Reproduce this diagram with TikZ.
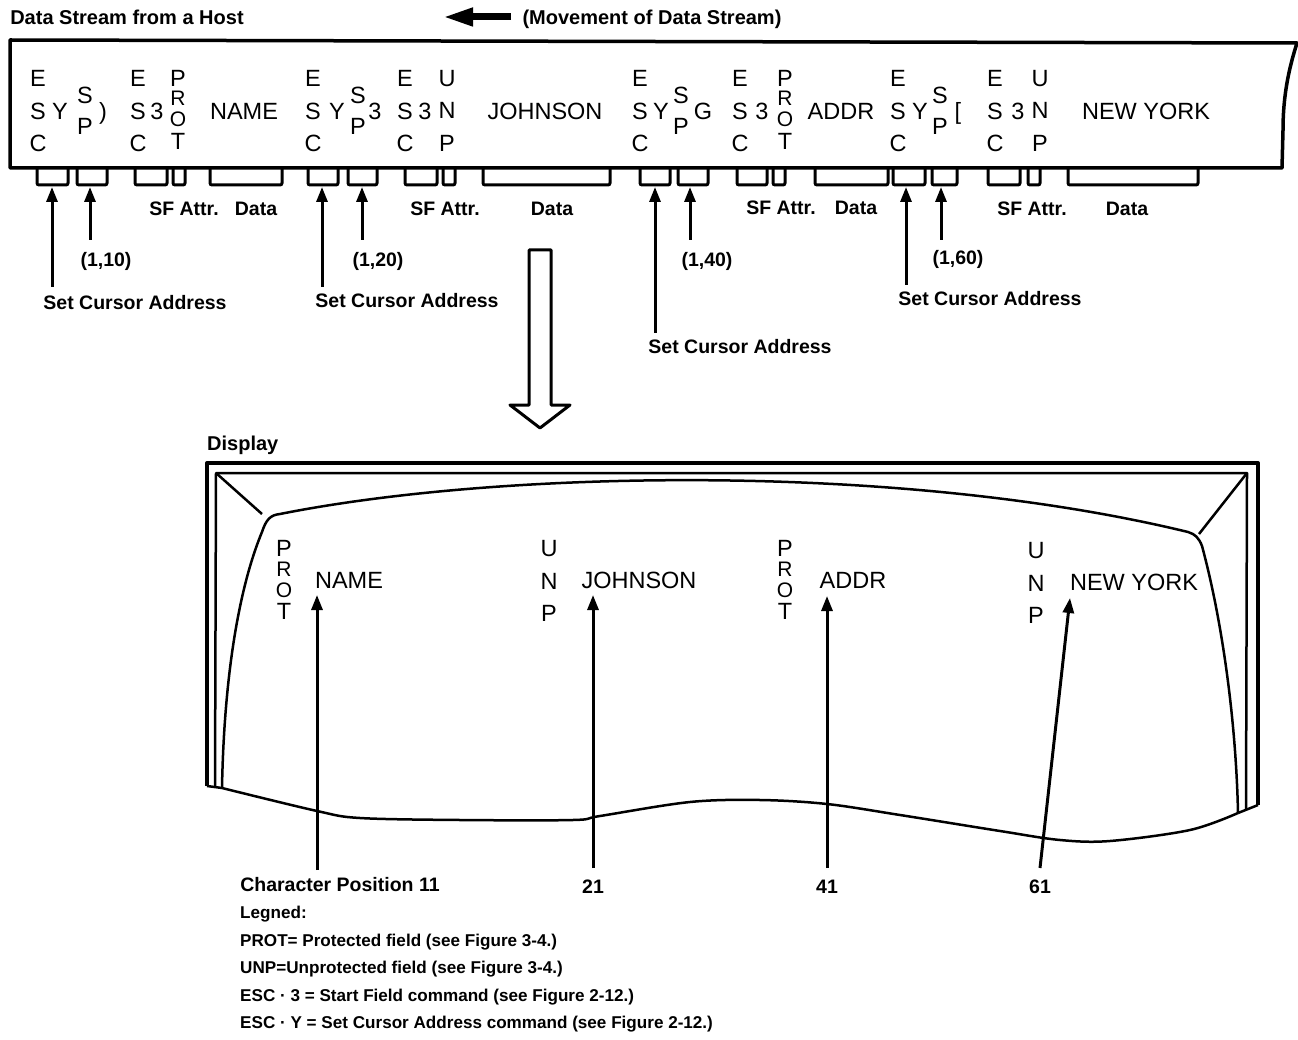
\documentclass[tikz,border=0pt]{standalone}
\usepackage{fontspec}
\setmainfont{Liberation Sans}
\usetikzlibrary{arrows.meta}
\tikzset{
 stxt/.style={font=\fontsize{23.5}{24}\selectfont, inner sep=0pt, text height=17pt, text depth=0pt, anchor=center},
 stxs/.style={font=\fontsize{21}{22}\selectfont, inner sep=0pt, text height=15pt, text depth=0pt, anchor=center},
 lbl/.style={font=\bfseries\fontsize{19.5}{20}\selectfont, inner sep=0pt, text height=14pt, text depth=0pt, anchor=center},
 ttl/.style={font=\bfseries\fontsize{20}{22}\selectfont, inner sep=0pt, text height=14.5pt, text depth=0pt},
 leg/.style={font=\bfseries\fontsize{17.1}{18}\selectfont, inner sep=0pt, text height=12.3pt, text depth=0pt, anchor=west},
 brkt/.style={line width=3pt, rounded corners=2pt},
 uparr/.style={line width=3pt, -{Triangle[length=15pt,width=11pt]}},
 outerframe/.style={line width=4pt, line join=round},
 thinline/.style={line width=2.5pt, line join=round},
}
\newcommand\escat[3]{%
 \node[stxt] (#1e) at (#2,#3) {E};
 \node[stxt] (#1s) at (#2,#3+33) {S};
 \node[stxt] (#1c) at (#2,#3+65) {C};}
\newcommand\spat[2]{%
 \node[stxt] (#1s) at (#2,95) {S};
 \node[stxt] (#1p) at (#2,126) {P};}
\newcommand\protat[3]{%
 \node[stxt] (#1p) at (#2,#3) {P};
 \node[stxs] (#1r) at (#2,#3+20.5) {R};
 \node[stxs] (#1o) at (#2,#3+41.5) {O};
 \node[stxt] (#1t) at (#2,#3+63) {T};}
\newcommand\unpat[3]{%
 \node[stxt] (#1u) at (#2,#3) {U};
 \node[stxt] (#1n) at (#2,#3+32.5) {N};
 \node[stxt] (#1p) at (#2,#3+65) {P};}
\newcommand\brkat[2]{\draw[brkt] (#1,168) -- (#1,185) -- (#2,185) -- (#2,168);}
\begin{document}
\begin{tikzpicture}[x=1pt,y=-1pt]
\useasboundingbox (0,0) rectangle (1298,1040);
% ---------- titles
\node[ttl] (title) at (127,17) {Data Stream from a Host};
\node[ttl] (move) at (652,17) {(Movement of Data Stream)};
\coordinate (mvs) at (511,17);
\coordinate (mve) at (443,17);
\draw[line width=7pt, -{Triangle[length=30pt,width=17pt]}] (mvs) -- (mve);
% ---------- data stream strip
\draw[line width=3.5pt, line join=round] (10,40) -- (1297,43)
  .. controls (1289,68) and (1283,95) .. (1283,130) -- (1282,168) -- (10,168) -- cycle;
% group A
\escat{ga}{38}{78}
\node[stxt] (gaY) at (60,111) {Y};
\spat{gasp}{85}
\node[stxt] (gaq) at (103,111) {)};
% group B
\escat{gb}{138}{78}
\node[stxt] (gb3) at (157,111) {3};
\protat{gbp}{178}{78}
\node[stxt] (w1) at (244,111) {NAME};
% group C
\escat{gc}{313}{78}
\node[stxt] (gcY) at (337,111) {Y};
\spat{gcsp}{358}
\node[stxt] (gcq) at (375,111) {3};
% group D
\escat{gd}{405}{78}
\node[stxt] (gd3) at (425,111) {3};
\unpat{gdu}{447}{78}
\node[stxt] (w2) at (545,111) {JOHNSON};
% group E
\escat{ge}{640}{78}
\node[stxt] (geY) at (661,111) {Y};
\spat{gesp}{681}
\node[stxt] (geq) at (703,111) {G};
% group F
\escat{gf}{740}{78}
\node[stxt] (gf3) at (762,111) {3};
\protat{gfp}{785}{78}
\node[stxt] (w3) at (841,111) {ADDR};
% group G
\escat{gg}{898}{78}
\node[stxt] (ggY) at (920,111) {Y};
\spat{ggsp}{940}
\node[stxt] (ggq) at (958,111) {[};
% group H
\escat{gh}{995}{78}
\node[stxt] (gh3) at (1018,111) {3};
\unpat{ghu}{1040}{78}
\node[stxt] (w4) at (1146,111) {NEW YORK};
% ---------- brackets
\brkat{37}{68}\brkat{77}{107}\brkat{135}{167}\brkat{173}{185}\brkat{210}{282}
\brkat{308}{338}\brkat{348}{377}\brkat{405}{437}\brkat{443}{455}\brkat{483}{610}
\brkat{640}{670}\brkat{678}{708}\brkat{737}{767}\brkat{773}{785}\brkat{815}{888}
\brkat{893}{925}\brkat{932}{957}\brkat{988}{1020}\brkat{1028}{1040}\brkat{1068}{1198}
% ---------- labels under strip
\node[lbl] (sf1) at (184,209) {SF Attr.};
\node[lbl] (da1) at (256,209) {Data};
\node[lbl] (sf2) at (445,209) {SF Attr.};
\node[lbl] (da2) at (552,209) {Data};
\node[lbl] (sf3) at (781,208) {SF Attr.};
\node[lbl] (da3) at (856,208) {Data};
\node[lbl] (sf4) at (1032,209) {SF Attr.};
\node[lbl] (da4) at (1127,209) {Data};
\node[lbl] (p1) at (106,260) {(1,10)};
\node[lbl] (p2) at (378,260) {(1,20)};
\node[lbl] (p3) at (707,260) {(1,40)};
\node[lbl] (p4) at (958,258) {(1,60)};
\node[lbl] (sc1) at (135,303) {Set Cursor Address};
\node[lbl] (sc2) at (407,301) {Set Cursor Address};
\node[lbl] (sc3) at (740,347) {Set Cursor Address};
\node[lbl] (sc4) at (990,299) {Set Cursor Address};
% ---------- arrows under strip
\coordinate (t1) at (52,187);  \coordinate (f1) at (52,287);
\coordinate (t2) at (90,187);  \coordinate (f2) at (90,240);
\coordinate (t3) at (322,187); \coordinate (f3) at (322,287);
\coordinate (t4) at (362,187); \coordinate (f4) at (362,240);
\coordinate (t5) at (655,187); \coordinate (f5) at (655,333);
\coordinate (t6) at (690,187); \coordinate (f6) at (690,240);
\coordinate (t7) at (906,187); \coordinate (f7) at (906,285);
\coordinate (t8) at (941,187); \coordinate (f8) at (941,240);
\foreach \i in {1,...,8} {\draw[uparr] (f\i) -- (t\i);}
% ---------- hollow arrow
\draw[line width=3pt, line join=round] (529,250) -- (551,250) -- (551,405) -- (570,405)
  -- (540,428) -- (510,405) -- (529,405) -- cycle;
% ---------- display
\node[ttl, anchor=west] (disp) at (207,443) {Display};
\draw[outerframe] (207,786) -- (207,463) -- (1258,463) -- (1258,805);
\draw[thinline] (215,787) -- (216,473) -- (1247,473) -- (1246,809);
\draw[thinline] (216,473) -- (262,514);
\draw[thinline] (1247,473) -- (1199,534);
\draw[thinline] (222,788) .. controls (224,680) and (238,590) .. (262,532)
  .. controls (266,520) and (270,515) .. (280,514)
  .. controls (500,470) and (900,462) .. (1188,532)
  .. controls (1195,534) and (1199,538) .. (1202,546)
  .. controls (1222,620) and (1236,720) .. (1238,813);
\draw[thinline] (207,786) -- (222,788);
\draw[thinline] (1238,813) -- (1258,805);
\draw[thinline] plot[smooth, tension=0.55] coordinates {(222,788) (317,811) (360,818) (460,820)
  (573,820) (600,816) (690,802) (760,800) (827,804) (900,815) (1000,831) (1060,840)
  (1110,841) (1190,830) (1238,813)};
% display texts
\protat{dp1}{284}{548}
\node[stxt] (dw1) at (349,580) {NAME};
\unpat{du1}{549}{548}
\node[stxt] (dw2) at (639,580) {JOHNSON};
\protat{dp2}{785}{548}
\node[stxt] (dw3) at (853,580) {ADDR};
\unpat{du2}{1036}{550}
\node[stxt] (dw4) at (1134,582) {NEW YORK};
% display arrows
\node[lbl] (cp11) at (340,884) {Character Position 11};
\node[lbl] (cp21) at (593,886) {21};
\node[lbl] (cp41) at (827,886) {41};
\node[lbl] (cp61) at (1040,886) {61};
\coordinate (d1t) at (317,595); \coordinate (d1f) at (317,870);
\coordinate (d2t) at (593,595); \coordinate (d2f) at (593,868);
\coordinate (d3t) at (827,596); \coordinate (d3f) at (827,868);
\coordinate (d4t) at (1070,598); \coordinate (d4f) at (1040,868);
\foreach \i in {1,...,4} {\draw[uparr] (d\i f) -- (d\i t);}
% ---------- legend
\node[leg] (lg0) at (240,912) {Legned:};
\node[leg] (lg1) at (240,940) {PROT= Protected field (see Figure 3-4.)};
\node[leg] (lg2) at (240,967) {UNP=Unprotected field (see Figure 3-4.)};
\node[leg] (lg3) at (240,995) {ESC · 3 = Start Field command (see Figure 2-12.)};
\node[leg] (lg4) at (240,1022) {ESC · Y = Set Cursor Address command (see Figure 2-12.)};
\end{tikzpicture}
\end{document}
